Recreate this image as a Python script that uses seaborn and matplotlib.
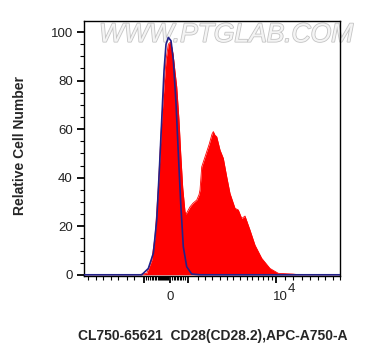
import matplotlib
matplotlib.use("Agg")
import matplotlib.pyplot as plt
import matplotlib.patheffects as pe
import matplotlib.transforms as mtransforms
import seaborn as sns
import pandas as pd

# ---- data (x in display channels 0..256, y = relative cell number) ----
sample_x = [0, 55, 58, 62.7, 67.7, 71, 74.3, 76, 77.7, 80, 82, 84.3, 86.7, 89, 92.7,
            95, 96.7, 98.7, 101, 102, 104, 106, 109, 112.7, 115, 116, 117.7, 121,
            125.3, 128, 129.3, 131, 132.7, 136, 139.3, 142.7, 146, 151, 154.3,
            157.7, 161, 166, 171, 177.7, 186, 194.3, 209, 215, 256]
sample_y = [0, 0, 0.3, 0.6, 6, 15.7, 36, 50, 63.7, 77.5, 88.5, 95, 96, 91, 77.5,
            63.7, 50, 36, 26, 25, 26.5, 28, 29.5, 30.8, 33, 35, 44.5, 48.6,
            54, 58, 59, 57.5, 56.9, 51.4, 48, 40.4, 33.5, 27.4, 26.7,
            23.2, 24.2, 18.4, 12.2, 6.8, 2.6, 0.6, 0.3, 0, 0]

control_x = [0, 57.7, 64.3, 69.3, 72.7, 75.3, 77.7, 80, 82, 84.3, 87, 89.3, 92,
             94.3, 96.7, 99.3, 102.7, 107.7, 116, 256]
control_y = [0, 0, 2.6, 8.8, 22.5, 43, 63.7, 84, 95, 97.8, 96.4, 88.5, 70.6,
             50, 29.4, 11.5, 3.3, 0.3, 0, 0]

x_major = [60, 86, 104, 192]
x_major_labels = ["", "0", "", "10"]
x_exponent = "4"
x_minor = [4.3, 11.7, 19.3, 27, 34.3, 42.7, 50.3,
           62, 64, 66, 67.5, 69, 70.5, 72, 73.5, 75, 76, 77, 78, 79, 80, 81, 82, 83, 84,
           88, 89.5, 91, 92.5, 94, 95.5, 97, 99, 101,
           114, 121, 128, 136, 143, 149, 156, 163, 168, 174, 179, 184, 188,
           201, 209, 218, 226, 234, 241, 249, 256]
y_major = [0, 20, 40, 60, 80, 100]
y_minor = [5, 10, 15, 25, 30, 35, 45, 50, 55, 65, 70, 75, 85, 90, 95]

xlabel = "CL750-65621  CD28(CD28.2),APC-A750-A"
ylabel = "Relative Cell Number"
watermark = "WWW.PTGLAB.COM"

sns.set_style("white")
plt.rcParams["font.family"] = ["Liberation Sans", "DejaVu Sans"]

fig = plt.figure(figsize=(3.68, 3.56), dpi=100)
ax = fig.add_axes([0.2283, 0.2247, 0.6957, 0.7172])

df_s = pd.DataFrame({"x": sample_x, "y": sample_y})
df_c = pd.DataFrame({"x": control_x, "y": control_y})

ax.fill_between(df_s["x"], df_s["y"], 0, color="#ff0000", linewidth=0, zorder=2)
sns.lineplot(data=df_s, x="x", y="y", ax=ax, color="#ff0000", linewidth=0.6,
             estimator=None, sort=False, zorder=2)
sns.lineplot(data=df_c, x="x", y="y", ax=ax, color="#22228a", linewidth=1.2,
             estimator=None, sort=False, zorder=3)

ax.set_xlim(0, 256)
ax.set_ylim(-0.5, 104.7)

ax.set_xticks(x_major)
ax.set_xticklabels(x_major_labels)
ax.set_xticks(x_minor, minor=True)
ax.set_yticks(y_major)
ax.set_yticklabels([str(v) for v in y_major])
ax.set_yticks(y_minor, minor=True)

ax.tick_params(axis="both", which="major", direction="out", length=5, width=1.3,
               color="black", labelsize=9.5, labelcolor="#222222")
ax.tick_params(axis="both", which="minor", direction="out", length=3, width=0.8,
               color="black")
ax.tick_params(axis="x", which="major", pad=6)
ax.tick_params(axis="y", which="major", pad=3)
ax.tick_params(bottom=True, left=True, which="both")

# shift the "10" label slightly right, as in the reference
for lbl in ax.get_xticklabels():
    if lbl.get_text() == "10":
        lbl.set_transform(lbl.get_transform() +
                          mtransforms.ScaledTranslation(4 / 100, 0, fig.dpi_scale_trans))

trans = mtransforms.blended_transform_factory(ax.transData, ax.transAxes)
ax.text(203.7, -0.074, x_exponent, transform=trans, ha="left", va="bottom",
        fontsize=9.5, color="#222222", clip_on=False)

for s in ax.spines.values():
    s.set_visible(True)
    s.set_color("black")
    s.set_linewidth(1.0)

ax.set_xlabel(xlabel, fontsize=10, fontweight="bold")
ax.set_ylabel(ylabel, fontsize=10, fontweight="bold")
ax.xaxis.set_label_coords(0.504, -0.208)
ax.yaxis.set_label_coords(-0.223, 0.513)

ax.text(0.555, 0.945, watermark, transform=ax.transAxes, ha="center", va="center",
        fontsize=19, color="#f4f4f4", style="italic", clip_on=False, zorder=1,
        path_effects=[pe.withStroke(linewidth=1.2, foreground="#c4c4c4")])

fig.savefig("out.png", dpi=100)
